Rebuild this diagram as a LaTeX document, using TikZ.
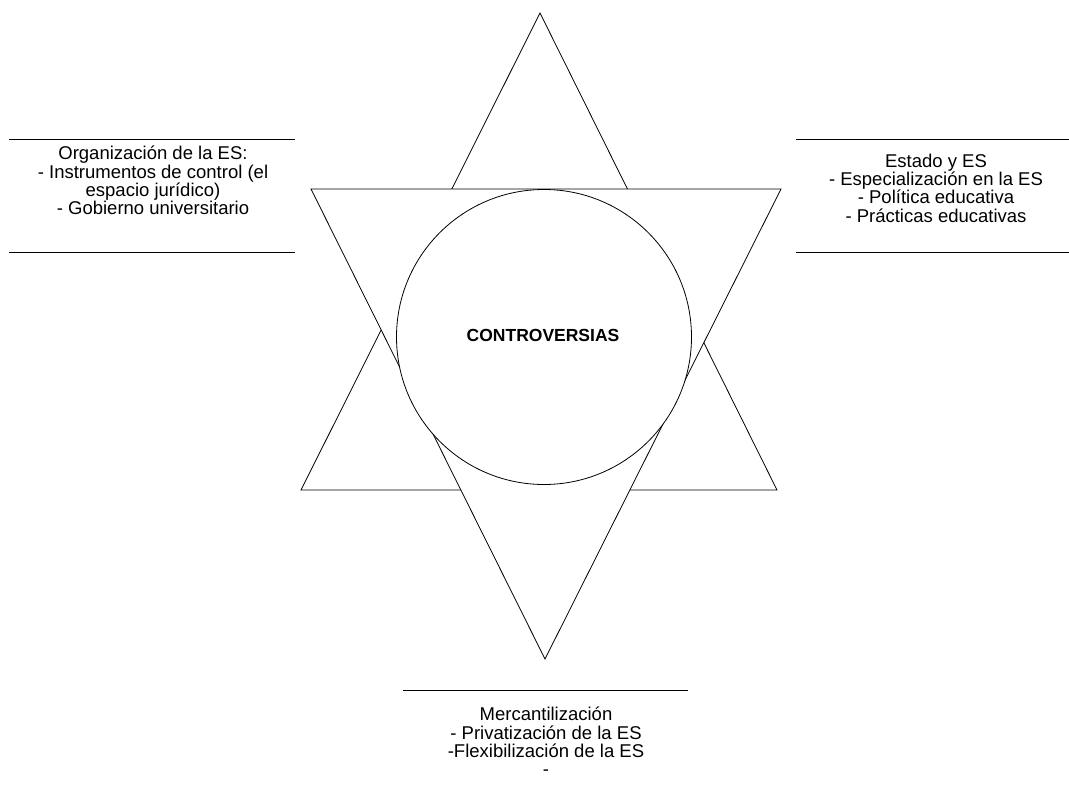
\documentclass[tikz,border=0pt]{standalone}
\usepackage{fontspec}
\setmainfont{Liberation Sans}
\usepackage{tikz}
\usetikzlibrary{positioning,calc}

\begin{document}
\begin{tikzpicture}[
        x=1pt, y=-1pt,
        edge/.style={draw, line width=0.8pt},
        topic/.style={align=center, inner sep=0pt, font=\fontsize{18.5}{18.3}\selectfont},
        core/.style={circle, draw, line width=0.8pt, fill=white, minimum size=295pt, inner sep=0pt}
      ]
        \useasboundingbox (0,0) rectangle (1069,800);
        % Star: upward triangle first, downward triangle covers it
        \coordinate (u1) at (540,13);
        \coordinate (u2) at (301,490);
        \coordinate (u3) at (777,490);
        \coordinate (d1) at (311,189);
        \coordinate (d2) at (781,189);
        \coordinate (d3) at (545,659);
        \draw[edge, fill=white] (u1) -- (u2) -- (u3) -- cycle;
        \draw[edge, fill=white] (d1) -- (d2) -- (d3) -- cycle;
        % Centre
        \node[core] (ctr) at (544,337) {};
        \node[font=\fontsize{17.5}{20}\selectfont\bfseries] (ctrtxt) at (543,335) {CONTROVERSIAS};
        % Left topic
        \coordinate (l1) at (9,139);  \coordinate (l2) at (295,139);
        \coordinate (l3) at (9,252);  \coordinate (l4) at (295,252);
        \draw[edge] (l1) -- (l2);
        \draw[edge] (l3) -- (l4);
        \node[topic, anchor=north] (org) at (153,146)
          {Organización de la ES:\\- Instrumentos de control (el\\espacio jurídico)\\- Gobierno universitario};
        % Right topic
        \coordinate (r1) at (796,139); \coordinate (r2) at (1069,139);
        \coordinate (r3) at (796,252); \coordinate (r4) at (1069,252);
        \draw[edge] (r1) -- (r2);
        \draw[edge] (r3) -- (r4);
        \node[topic, anchor=north] (est) at (936,153.5)
          {Estado y ES\\- Especialización en la ES\\- Política educativa\\- Prácticas educativas};
        % Bottom topic
        \coordinate (b1) at (403,690); \coordinate (b2) at (688,690);
        \draw[edge] (b1) -- (b2);
        \node[topic, anchor=north] (mer) at (546,707)
          {Mercantilización\\- Privatización de la ES\\-Flexibilización de la ES\\-};
      \end{tikzpicture}
\end{document}
